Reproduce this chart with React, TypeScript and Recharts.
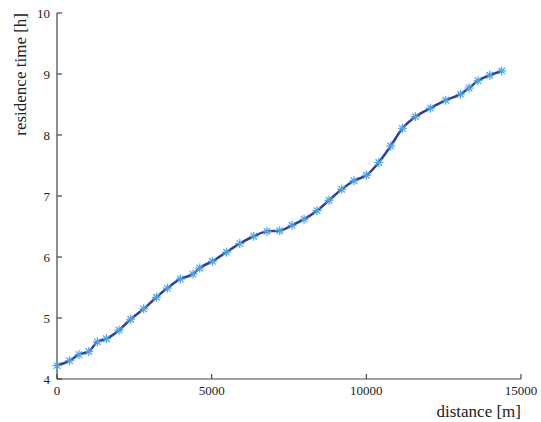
import { LineChart, Line, XAxis, YAxis } from 'recharts';

const distances = [
  0, 410, 711, 1025, 1306, 1597, 2005, 2383, 2803, 3214, 3570, 3990, 4397, 4614,
  5024, 5477, 5907, 6360, 6790, 7200, 7598, 7986, 8406, 8794, 9205, 9602, 10003,
  10401, 10789, 11167, 11587, 12072, 12567, 13042, 13320, 13611, 13990, 14378,
];

const residenceTimes = [
  4.22, 4.3, 4.4, 4.45, 4.61, 4.66, 4.8, 4.98, 5.15, 5.34, 5.49, 5.64, 5.72, 5.82,
  5.93, 6.08, 6.22, 6.34, 6.42, 6.43, 6.52, 6.62, 6.76, 6.93, 7.11, 7.25, 7.34,
  7.55, 7.82, 8.11, 8.3, 8.44, 8.57, 8.67, 8.77, 8.89, 8.98, 9.05,
];

const xTicks = [0, 5000, 10000, 15000];
const yTicks = [4, 5, 6, 7, 8, 9, 10];

const chartData = distances.map((d, i) => ({ distance: d, time: residenceTimes[i] }));

const FONT = 'Liberation Serif, DejaVu Serif, serif';
const AXIS_COLOR = '#444';
const LINE_COLOR = '#2b3fa5';
const MARKER_COLOR = '#4ba3e6';

// MATLAB-style '*' marker
function Asterisk(props: any) {
  const { cx, cy } = props;
  if (cx == null || cy == null) return null;
  const r = 4.5;
  const d = r * 0.72;
  return (
    <g stroke={MARKER_COLOR} strokeWidth={1.2}>
      <line x1={cx - r} y1={cy} x2={cx + r} y2={cy} />
      <line x1={cx} y1={cy - r} x2={cx} y2={cy + r} />
      <line x1={cx - d} y1={cy - d} x2={cx + d} y2={cy + d} />
      <line x1={cx - d} y1={cy + d} x2={cx + d} y2={cy - d} />
    </g>
  );
}

const tickStyle = { fontSize: 13, fill: '#222', style: { fontFamily: FONT } };
const blank = () => '';

export default function App() {
  return (
    <div
      style={{
        position: 'absolute',
        left: 0,
        top: 0,
        width: 541,
        height: 422,
        background: '#fff',
        fontFamily: FONT,
      }}
    >
      <LineChart
        width={541}
        height={422}
        data={chartData}
        margin={{ top: 13, right: 20, bottom: 13, left: 17 }}
        style={{ fontFamily: FONT }}
      >
        <XAxis
          dataKey="distance"
          type="number"
          domain={[0, 15000]}
          ticks={xTicks}
          height={30}
          stroke={AXIS_COLOR}
          strokeWidth={1.2}
          tickSize={-5}
          tickMargin={12}
          tick={tickStyle}
          label={(p: any) => {
            const vb = p.viewBox;
            return (
              <text
                x={vb.x + vb.width}
                y={417}
                textAnchor="end"
                style={{ fontFamily: FONT, fontSize: 17 }}
                fill="#222"
              >
                distance [m]
              </text>
            );
          }}
        />
        <XAxis
          xAxisId="top"
          orientation="top"
          dataKey="distance"
          type="number"
          domain={[0, 15000]}
          ticks={xTicks}
          height={0}
          stroke={AXIS_COLOR}
          strokeWidth={1.2}
          tickSize={-5}
          tickFormatter={blank}
        />
        <YAxis
          type="number"
          domain={[4, 10]}
          ticks={yTicks}
          width={40}
          stroke={AXIS_COLOR}
          strokeWidth={1.2}
          tickSize={-5}
          tickMargin={12}
          tick={tickStyle}
          label={(p: any) => {
            const vb = p.viewBox;
            const x = 26;
            const y = vb.y;
            return (
              <text
                x={x}
                y={y}
                transform={`rotate(-90, ${x}, ${y})`}
                textAnchor="end"
                style={{ fontFamily: FONT, fontSize: 17 }}
                fill="#222"
              >
                residence time [h]
              </text>
            );
          }}
        />
        <YAxis
          yAxisId="right"
          orientation="right"
          type="number"
          domain={[4, 10]}
          ticks={yTicks}
          width={0}
          stroke={AXIS_COLOR}
          strokeWidth={1.2}
          tickSize={-5}
          tickFormatter={blank}
        />
        <Line
          type="monotone"
          dataKey="time"
          stroke={LINE_COLOR}
          strokeWidth={2.5}
          dot={<Asterisk />}
          activeDot={false}
          isAnimationActive={false}
        />
      </LineChart>
    </div>
  );
}
